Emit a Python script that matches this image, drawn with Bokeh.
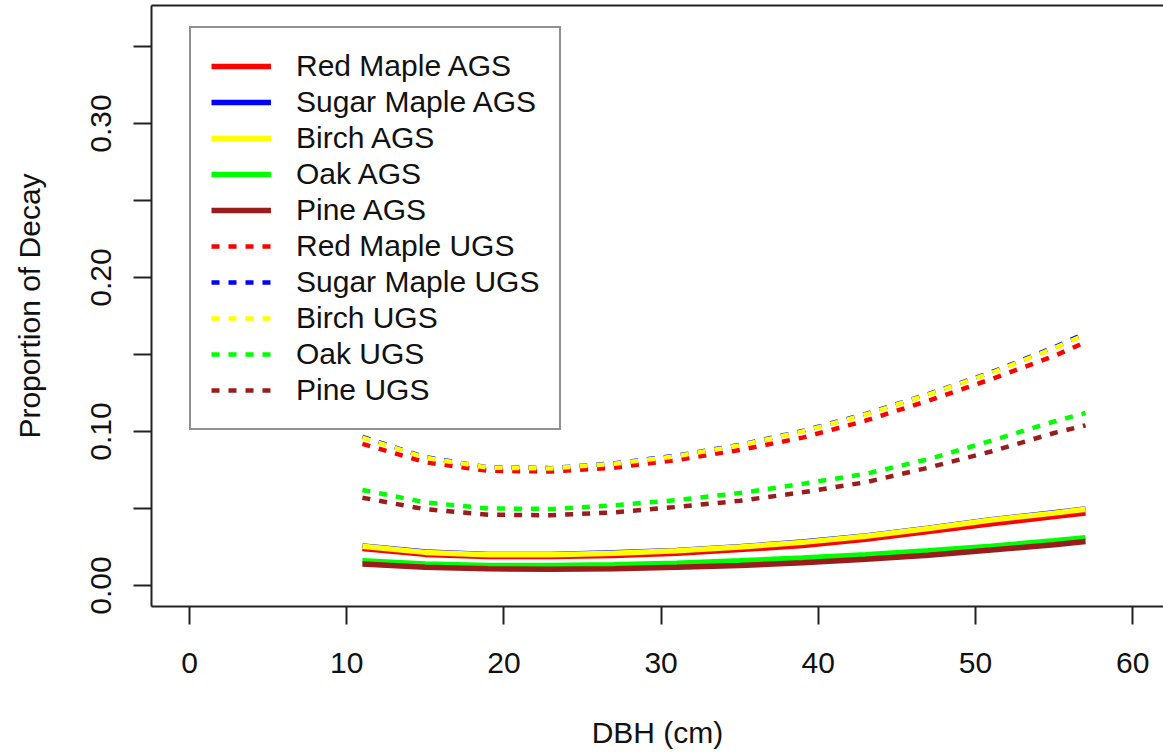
from bokeh.plotting import figure
from bokeh.models import Range1d, FixedTicker, LinearAxis, Legend, LegendItem
from bokeh.embed import file_html
from bokeh.resources import INLINE

# ---- data ----
dbh = [11, 15, 19, 23, 27, 31, 35, 39, 43, 47, 51, 55, 57]

red_maple_ags   = [0.0240, 0.0202, 0.0188, 0.0188, 0.0195, 0.0210, 0.0233, 0.0260, 0.0300, 0.0350, 0.0400, 0.0448, 0.0470]
sugar_maple_ags = [0.0257, 0.0217, 0.0202, 0.0202, 0.0212, 0.0227, 0.0252, 0.0282, 0.0322, 0.0372, 0.0427, 0.0472, 0.0497]
birch_ags       = [0.0255, 0.0215, 0.0200, 0.0200, 0.0210, 0.0225, 0.0250, 0.0280, 0.0320, 0.0370, 0.0425, 0.0470, 0.0495]
oak_ags         = [0.0160, 0.0140, 0.0130, 0.0130, 0.0135, 0.0145, 0.0160, 0.0178, 0.0200, 0.0225, 0.0255, 0.0290, 0.0310]
pine_ags        = [0.0140, 0.0118, 0.0108, 0.0105, 0.0108, 0.0118, 0.0130, 0.0148, 0.0170, 0.0197, 0.0230, 0.0265, 0.0285]

red_maple_ugs   = [0.0920, 0.0800, 0.0745, 0.0740, 0.0765, 0.0815, 0.0880, 0.0960, 0.1070, 0.1200, 0.1340, 0.1490, 0.1580]
sugar_maple_ugs = [0.0965, 0.0833, 0.0767, 0.0762, 0.0793, 0.0843, 0.0913, 0.1003, 0.1113, 0.1243, 0.1384, 0.1546, 0.1637]
birch_ugs       = [0.0960, 0.0830, 0.0765, 0.0760, 0.0790, 0.0840, 0.0910, 0.1000, 0.1110, 0.1240, 0.1380, 0.1540, 0.1630]
oak_ugs         = [0.0620, 0.0540, 0.0500, 0.0497, 0.0520, 0.0555, 0.0600, 0.0660, 0.0725, 0.0820, 0.0940, 0.1065, 0.1120]
pine_ugs        = [0.0570, 0.0495, 0.0460, 0.0456, 0.0475, 0.0510, 0.0550, 0.0605, 0.0670, 0.0765, 0.0870, 0.0990, 0.1040]

labels = ["Red Maple AGS", "Sugar Maple AGS", "Birch AGS", "Oak AGS", "Pine AGS",
          "Red Maple UGS", "Sugar Maple UGS", "Birch UGS", "Oak UGS", "Pine UGS"]
series = [red_maple_ags, sugar_maple_ags, birch_ags, oak_ags, pine_ags,
          red_maple_ugs, sugar_maple_ugs, birch_ugs, oak_ugs, pine_ugs]
colors = ["#FF0000", "#0000FF", "#FFFF00", "#00FF00", "#9A1C1C"] * 2
dashes = ["solid"] * 5 + ["8 9"] * 5

x_ticks = [0, 10, 20, 30, 40, 50, 60]
y_ticks = [0.0, 0.05, 0.10, 0.15, 0.20, 0.25, 0.30, 0.35]
y_tick_labels = {0.0: "0.00", 0.05: "", 0.10: "0.10", 0.15: "", 0.20: "0.20", 0.25: "", 0.30: "0.30", 0.35: ""}

FONT = "Liberation Sans"
FRAME = "#222222"
TEXT = "#111111"

p = figure(width=1163, height=752, output_backend="svg", toolbar_location=None,
           x_range=Range1d(-2.417, 61.96), y_range=Range1d(-0.01364, 0.3766),
           min_border_left=151, min_border_right=0, min_border_top=5, min_border_bottom=146)
p.grid.visible = False
p.outline_line_color = None
p.background_fill_color = "white"
p.border_fill_color = "white"

renderers = []
for ys, c, d in zip(series, colors, dashes):
    w = 5.5 if d == "solid" else 4.5
    r = p.line(dbh, ys, line_color=c, line_width=w, line_dash=d)
    renderers.append(r)

# x axis
xa = p.xaxis[0]
xa.ticker = FixedTicker(ticks=x_ticks)
xa.axis_label = "DBH (cm)"
# y axis
ya = p.yaxis[0]
ya.ticker = FixedTicker(ticks=y_ticks)
ya.major_label_overrides = y_tick_labels
ya.axis_label = "Proportion of Decay"
ya.major_label_orientation = "vertical"

for ax in (xa, ya):
    ax.axis_line_color = FRAME
    ax.axis_line_width = 2
    ax.major_tick_line_color = FRAME
    ax.major_tick_line_width = 2
    ax.major_tick_in = 0
    ax.major_tick_out = 18
    ax.minor_tick_line_color = None
    ax.major_label_text_font = FONT
    ax.major_label_text_font_size = "30px"
    ax.major_label_text_color = TEXT
    ax.axis_label_text_font = FONT
    ax.axis_label_text_font_size = "30px"
    ax.axis_label_text_font_style = "normal"
    ax.axis_label_text_color = TEXT

xa.major_label_standoff = 28
xa.axis_label_standoff = 40
ya.major_label_standoff = 22
ya.axis_label_standoff = 43

# top frame line
top = LinearAxis(ticker=FixedTicker(ticks=[]), major_tick_in=0, major_tick_out=0,
                 minor_tick_in=0, minor_tick_out=0, major_label_standoff=0,
                 major_label_text_font_size="0px", axis_line_color=FRAME, axis_line_width=2)
p.add_layout(top, "above")

items = [LegendItem(label=l, renderers=[r]) for l, r in zip(labels, renderers)]
legend = Legend(items=items, location=(38, 176),
                label_text_font=FONT, label_text_font_size="30px", label_text_color=TEXT,
                label_height=36, glyph_height=20, glyph_width=60, spacing=0, padding=20,
                label_standoff=25, border_line_color=FRAME, border_line_width=2,
                background_fill_color="white", background_fill_alpha=1.0)
p.add_layout(legend)

open("out.html", "w").write(file_html(p, INLINE))
